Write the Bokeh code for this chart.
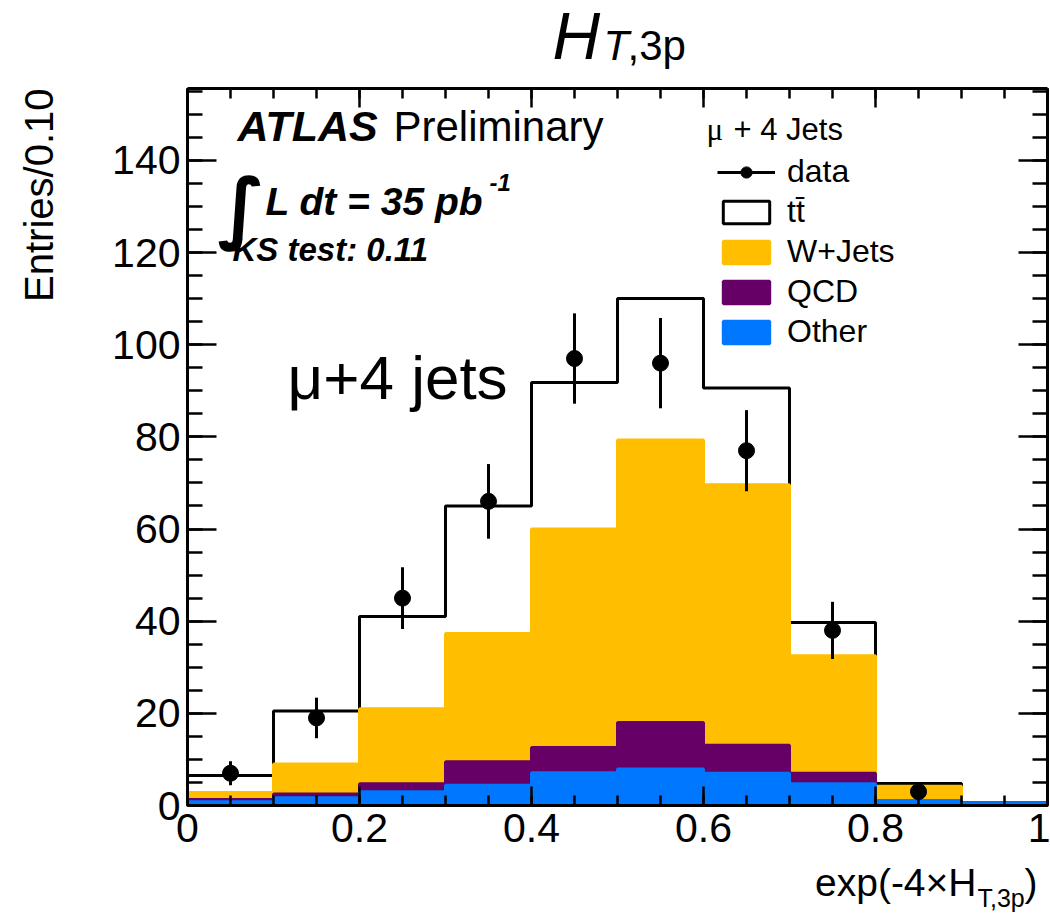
import math
from bokeh.plotting import figure
from bokeh.models import (Range1d, LinearAxis, FixedTicker, Label,
                          Legend, LegendItem, ColumnDataSource)
from bokeh.embed import file_html
from bokeh.resources import INLINE

# ---------------- data ----------------
bin_edges = [0.0, 0.1, 0.2, 0.3, 0.4, 0.5, 0.6, 0.7, 0.8, 0.9, 1.0]
other = [0.8, 1.7, 3.0, 4.4, 7.1, 7.9, 7.0, 4.7, 1.0, 0.6]
qcd = [0.5, 0.8, 1.7, 5.1, 5.5, 10.1, 6.1, 2.3, 0.0, 0.0]
wjets = [1.5, 6.5, 16.3, 27.8, 47.4, 61.3, 56.5, 25.5, 3.2, 0.0]
ttbar = [3.7, 11.5, 20.0, 27.7, 31.8, 30.7, 21.0, 7.2, 0.6, 0.0]

data_x = [0.05, 0.15, 0.25, 0.35, 0.45, 0.55, 0.65, 0.75, 0.85]
data_y = [7, 19, 45, 66, 97, 96, 77, 38, 3]
data_err = [2.6, 4.4, 6.7, 8.1, 9.8, 9.8, 8.8, 6.2, 1.7]

xtick_vals = [0.0, 0.2, 0.4, 0.6, 0.8, 1.0]
xtick_labels = ["0", "0.2", "0.4", "0.6", "0.8", "1"]
xminor_vals = [i * 0.05 for i in range(21)]
ytick_vals = [0, 20, 40, 60, 80, 100, 120, 140]
ytick_labels = ["0", "20", "40", "60", "80", "100", "120", "140"]
yminor_vals = list(range(0, 156, 5))

XMIN, XMAX = 0.0, 1.0
YMAX = 155.6
C_W = "#FFBE00"
C_QCD = "#660066"
C_OTHER = "#0077FF"
FONT = "Liberation Sans"
W, H = 1050, 913

# where the histogram box sits on the canvas (pixels)
FX0, FX1, FY0, FY1 = 187, 1047, 805, 88


def dx(px):
    return XMIN + (px - FX0) / (FX1 - FX0) * (XMAX - XMIN)


def dy(py):
    return (FY0 - py) / (FY0 - FY1) * YMAX


# the plotting frame covers the whole canvas; the axes are drawn at fixed
# data locations so that titles outside the histogram box stay visible
p = figure(width=W, height=H,
           x_range=Range1d(dx(0), dx(W)), y_range=Range1d(dy(H), dy(0)),
           output_backend="svg", toolbar_location=None,
           x_axis_type=None, y_axis_type=None, min_border=0)
p.title.visible = False
p.outline_line_color = None
p.background_fill_color = "white"
p.border_fill_color = "white"


def make_axis(ticks, minor, mj, mn, bounds, loc, labels=None, standoff=8):
    ax = LinearAxis(ticker=FixedTicker(ticks=ticks, minor_ticks=minor),
                    bounds=bounds, fixed_location=loc)
    ax.major_tick_in = mj
    ax.major_tick_out = 0
    ax.minor_tick_in = mn
    ax.minor_tick_out = 0
    ax.major_tick_line_width = 2.5
    ax.minor_tick_line_width = 2.5
    ax.axis_line_width = 3
    ax.axis_line_color = "black"
    ax.major_label_standoff = standoff
    ax.major_label_text_font = FONT
    ax.major_label_text_color = "black"
    if labels is not None:
        ax.major_label_overrides = {t: l for t, l in zip(ticks, labels)}
        ax.major_label_text_font_size = "41px"
    else:
        ax.major_label_overrides = {t: "" for t in ticks}
        ax.major_label_text_font_size = "10px"
        ax.major_label_standoff = 0
    return ax


p.add_layout(make_axis(xtick_vals, xminor_vals, 19, 10, (XMIN, XMAX), 0.0,
                       xtick_labels, 8), "below")
p.add_layout(make_axis(xtick_vals, xminor_vals, 19, 10, (XMIN, XMAX), YMAX), "above")
p.add_layout(make_axis(ytick_vals, yminor_vals, 29, 15, (0.0, YMAX), XMIN,
                       ytick_labels, 7), "left")
p.add_layout(make_axis(ytick_vals, yminor_vals, 29, 15, (0.0, YMAX), XMAX), "right")

# ---------------- stacked histogram ----------------
layers = [other, qcd, wjets, ttbar]
cum = []
run = [0.0] * len(other)
for lay in layers:
    run = [a + b for a, b in zip(run, lay)]
    cum.append(run)
cum_other, cum_qcd, cum_w, cum_tt = cum

# ttbar outline (step contour of the total)
step_x, step_y = [bin_edges[0]], [0.0]
for i in range(len(cum_tt)):
    step_x += [bin_edges[i], bin_edges[i + 1]]
    step_y += [cum_tt[i], cum_tt[i]]
step_x.append(bin_edges[-1])
step_y.append(0.0)
p.line(step_x, step_y, line_color="black", line_width=3)


def layer_source(tops, vals, bottoms=None):
    keep = [i for i, v in enumerate(vals) if v > 0]
    return ColumnDataSource(dict(
        left=[bin_edges[i] for i in keep],
        right=[bin_edges[i + 1] for i in keep],
        bottom=[0.0 if bottoms is None else bottoms[i] for i in keep],
        top=[tops[i] for i in keep]))


# ttbar box used only for the legend (hidden in the plot)
r_tt = p.quad(left="left", right="right", bottom="bottom", top="top",
              source=layer_source(cum_tt, ttbar, cum_w),
              fill_color="white", line_color="black", line_width=3)
r_tt.visible = False

r_w = p.quad(left="left", right="right", bottom="bottom", top="top",
             source=layer_source(cum_w, [w + q + o for w, q, o in zip(wjets, qcd, other)]),
             fill_color=C_W, line_color=C_W, line_width=3)
r_q = p.quad(left="left", right="right", bottom="bottom", top="top",
             source=layer_source(cum_qcd, [q + o for q, o in zip(qcd, other)]),
             fill_color=C_QCD, line_color=C_QCD, line_width=3)
r_o = p.quad(left="left", right="right", bottom="bottom", top="top",
             source=layer_source(cum_other, other),
             fill_color=C_OTHER, line_color=C_OTHER, line_width=3)

# ---------------- data points ----------------
src_d = ColumnDataSource(dict(x=data_x, y=data_y,
                              lo=[y - e for y, e in zip(data_y, data_err)],
                              hi=[y + e for y, e in zip(data_y, data_err)]))
r_err = p.segment(x0="x", x1="x", y0="lo", y1="hi", source=src_d,
                  line_color="black", line_width=3)
r_pt = p.scatter(x="x", y="y", source=src_d, size=16, marker="circle",
                 fill_color="black", line_color="black")

# ---------------- legend ----------------
legend = Legend(items=[
    LegendItem(label="data", renderers=[r_err, r_pt]),
    LegendItem(label="tt\u0304", renderers=[r_tt]),
    LegendItem(label="W+Jets", renderers=[r_w]),
    LegendItem(label="QCD", renderers=[r_q]),
    LegendItem(label="Other", renderers=[r_o]),
], location=(717, H - 350))
legend.glyph_width = 58
legend.glyph_height = 28
legend.label_standoff = 12
legend.spacing = 3
legend.padding = 0
legend.margin = 0
legend.border_line_alpha = 0
legend.background_fill_alpha = 0
legend.inactive_fill_alpha = 0
legend.label_text_font = FONT
legend.label_text_font_size = "32px"
legend.label_text_color = "black"
p.add_layout(legend, "center")


# ---------------- texts ----------------
# (px, py) is the wanted baseline start in canvas pixels; Bokeh's
# "alphabetic" anchor sits about 0.4 em above the drawn baseline here
def txt(px, py, s, size, style="normal", font=FONT, align="left", angle=0.0,
        shift=0.4):
    if angle == 0.0:
        py = py - shift * size
    else:
        px = px - shift * size
    p.add_layout(Label(x=dx(px), y=dy(py), text=s, text_font=font,
                       text_font_size=f"{size}px", text_font_style=style,
                       text_align=align, text_baseline="alphabetic",
                       angle=angle, text_color="black"))


# title H_{T,3p}
txt(552, 62, "H", 66, "italic")
txt(603, 62, "T", 42, "italic")
txt(627, 62, ",3p", 42)

# axis titles
txt(976, 898, "exp(-4\u00d7H", 39, align="right")
txt(977, 907, "T,3p", 25)
txt(1024, 898, ")", 39)
txt(54, 88, "Entries/0.10", 40, align="right", angle=math.pi / 2)

# ATLAS labels
txt(237, 143, "ATLAS", 43, "bold italic")
txt(393, 143, "Preliminary", 42)
txt(217, 206, "\u222b", 78, "bold", font="DejaVu Sans", shift=0.0)
txt(265, 217, "L dt = 35 pb", 39, "bold italic")
txt(489, 192, "-1", 24, "bold italic")
txt(232, 262, "KS test: 0.11", 33, "bold italic")
txt(287, 402, "\u03bc+4 jets", 62)

# legend header
txt(706, 141, "\u03bc", 31, font="Liberation Serif")
txt(733, 141, "+ 4 Jets", 31)

open("out.html", "w").write(file_html(p, INLINE))
